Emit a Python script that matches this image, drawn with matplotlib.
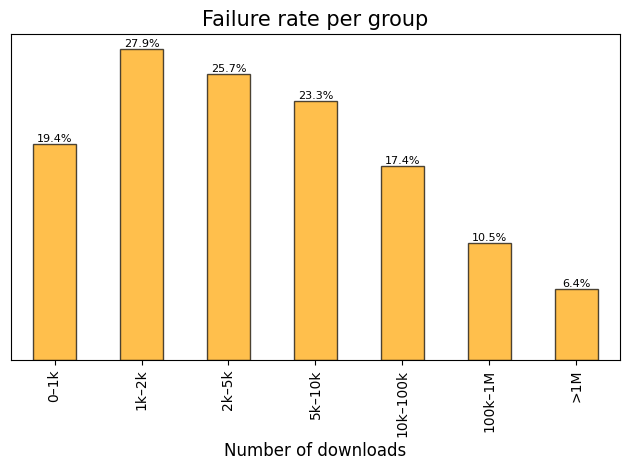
import matplotlib.pyplot as plt
import numpy as np

groups = ['0–1k', '1k–2k', '2k–5k', '5k–10k', '10k–100k', '100k–1M', '>1M']
failure_rate = [19.4, 27.9, 25.7, 23.3, 17.4, 10.5, 6.4]

fig, ax = plt.subplots(figsize=(6.3, 4.7), dpi=100)
x = np.arange(len(groups))
bars = ax.bar(x, failure_rate, width=0.5, color='orange', edgecolor='black', alpha=0.7)

for b, v in zip(bars, failure_rate):
    ax.text(b.get_x() + b.get_width() / 2, v, f'{v}%', ha='center', va='bottom', fontsize=8)

ax.set_xticks(x)
ax.set_xticklabels(groups, rotation=90)
ax.set_xlim(-0.5, len(groups) - 0.5)
ax.set_ylim(0, max(failure_rate) * 1.05)
ax.set_yticks([])
ax.set_xlabel('Number of downloads', fontsize=12)
ax.set_title('Failure rate per group', fontsize=15)

plt.subplots_adjust(left=0.0175, right=0.984, top=0.928, bottom=0.234)
plt.savefig('out.png')
